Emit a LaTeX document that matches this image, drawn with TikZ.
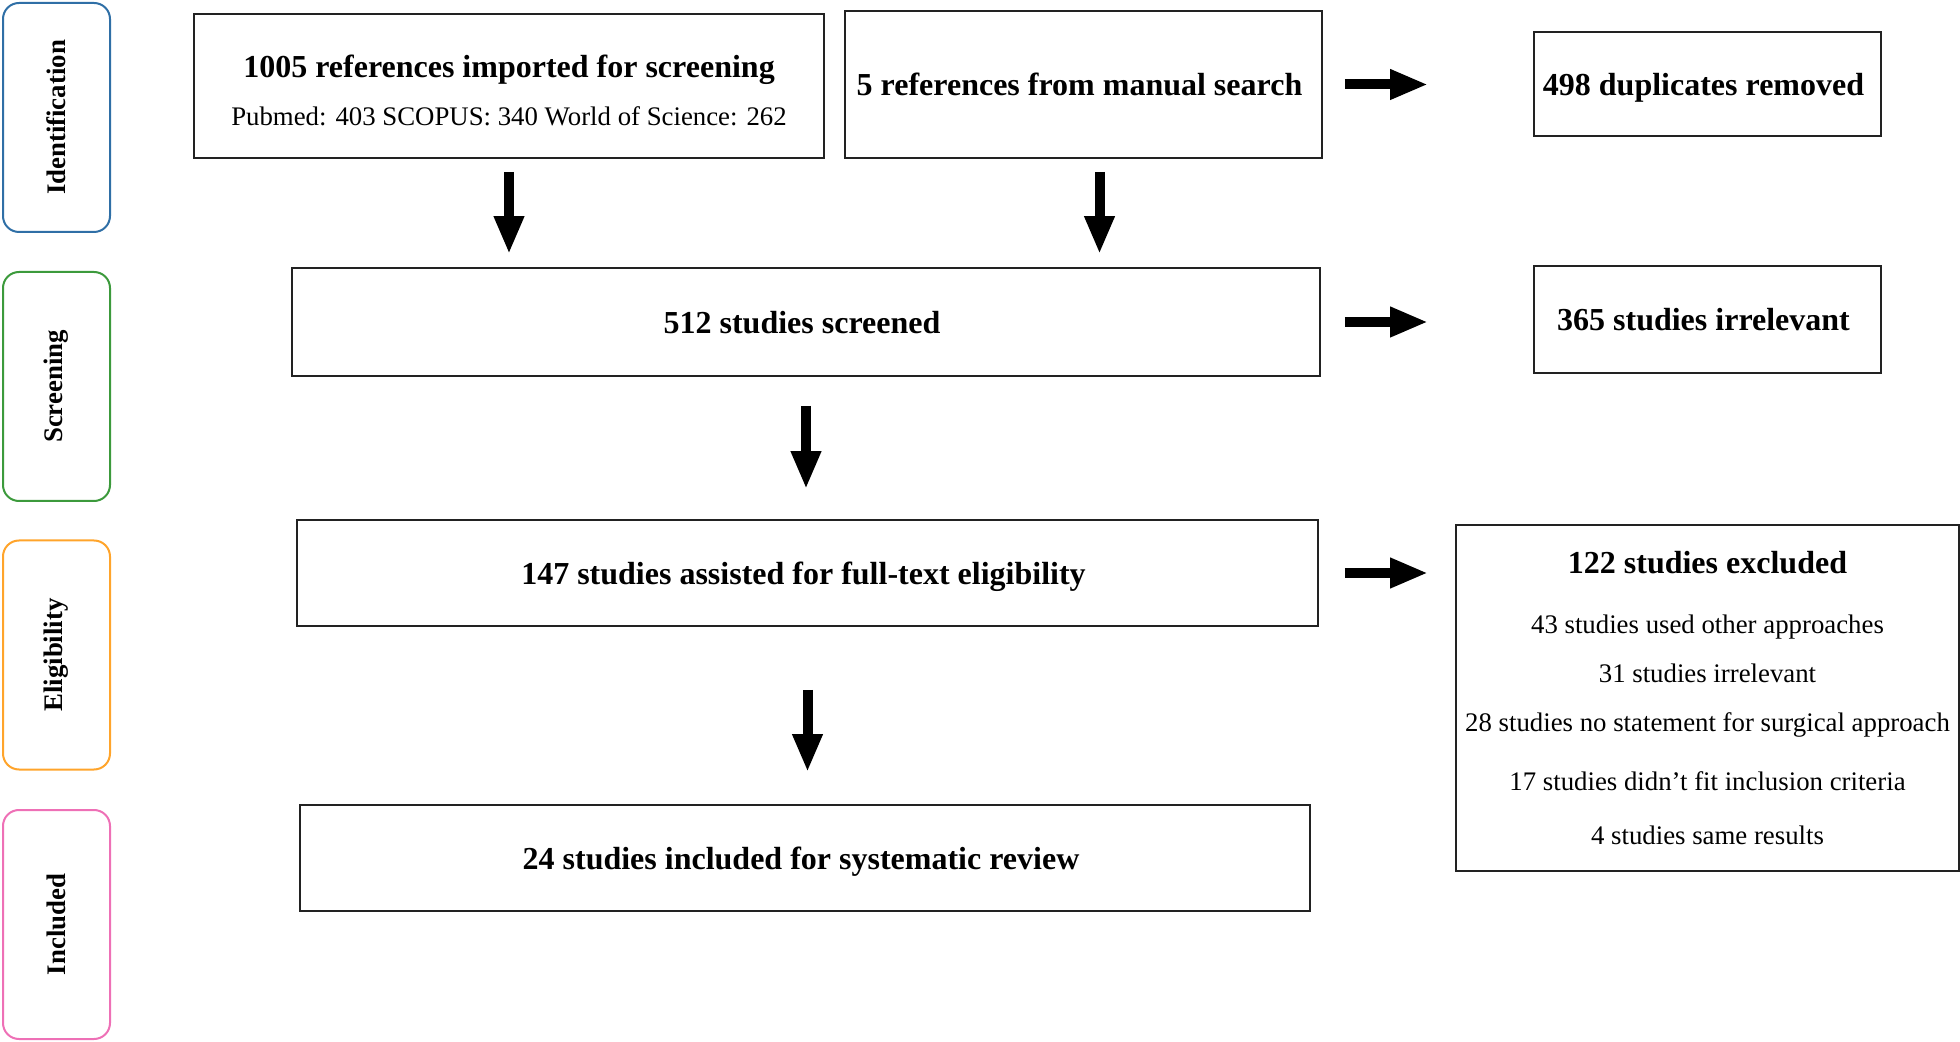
\documentclass[tikz,border=0pt]{standalone}
\usepackage{fontspec}
\setmainfont{Liberation Serif}
\usetikzlibrary{arrows.meta,positioning}
\definecolor{PrismaBlue}{HTML}{2F6FA6}
\definecolor{PrismaGreen}{HTML}{3C9A3C}
\definecolor{PrismaOrange}{HTML}{FFA42B}
\definecolor{PrismaPink}{HTML}{EE70B6}
\definecolor{PrismaInk}{HTML}{222222}

\begin{document}
\begin{tikzpicture}[
    x=0.5pt,y=-0.5pt,
    phase/.style={
      rotate=90,
      rounded corners=8pt,
      minimum width=114.5pt,
      minimum height=53.5pt,
      line width=1pt,
      inner sep=0pt,
      font=\fontsize{13.4}{16}\selectfont\bfseries
    },
    stepbox/.style={
      draw=PrismaInk,
      line width=0.9pt,
      inner sep=0pt,
      align=center,
      font=\fontsize{16}{19}\selectfont\bfseries
    },
    oneline/.style={
      text height=13pt,
      text depth=1.5pt
    },
    blockarrow/.style={
      line width=5pt,
      -{Triangle[length=19pt,width=14pt]}
    }]

    \useasboundingbox (0,0) rectangle (1960,1042);

    % Phase labels
    \node[phase,draw=PrismaBlue] (pid) at (56.5,117.5) {Identification};
    \node[phase,draw=PrismaGreen] (pscr) at (56.5,386.5) {Screening};
    \node[phase,draw=PrismaOrange] (pelig) at (56.5,655) {Eligibility};
    \node[phase,draw=PrismaPink] (pinc) at (56.5,924.5) {Included};

    % Identification
    \node[stepbox,minimum width=315pt,minimum height=72pt] (imported) at (509,86) {
      \rule{0pt}{16pt}1005 references imported for screening\\[5pt]
      \fontsize{13.4}{16}\selectfont\mdseries Pubmed: 403 SCOPUS: 340 World of Science: 262
    };
    \node[stepbox,oneline,minimum width=238.5pt,minimum height=73.5pt] (manual) at (1083.5,84.5) {
      5 references from manual search
    };
    \node[stepbox,oneline,minimum width=173.5pt,minimum height=52pt] (dupl) at (1707.5,84) {
      498 duplicates removed
    };

    % Screening
    \node[stepbox,oneline,minimum width=514pt,minimum height=54pt] (screened) at (806,322) {
      512 studies screened
    };
    \node[stepbox,oneline,minimum width=173.5pt,minimum height=53.5pt] (irrel) at (1707.5,319.5) {
      365 studies irrelevant
    };

    % Eligibility
    \node[stepbox,oneline,minimum width=510.5pt,minimum height=53pt] (fulltext) at (807.5,573) {
      147 studies assisted for full-text eligibility
    };
    \node[stepbox,minimum width=251.5pt,minimum height=173pt] (excluded) at (1707.5,698) {
      122 studies excluded\\[11pt]
      \fontsize{13.4}{16}\selectfont\mdseries
      43 studies used other approaches\\[5.5pt]
      \fontsize{13.4}{16}\selectfont\mdseries
      31 studies irrelevant\\[5.5pt]
      \fontsize{13.4}{16}\selectfont\mdseries
      28 studies no statement for surgical approach\\[10.8pt]
      \fontsize{13.4}{16}\selectfont\mdseries
      17 studies didn’t fit inclusion criteria\\[8pt]
      \fontsize{13.4}{16}\selectfont\mdseries
      4 studies same results
    };

    % Included
    \node[stepbox,oneline,minimum width=505pt,minimum height=53pt] (review) at (805,858) {
      24 studies included for systematic review
    };

    % Arrows
    \draw[blockarrow,shorten <=6.5pt,shorten >=6.5pt]
      (imported.south) -- (imported.south |- screened.north);
    \draw[blockarrow,shorten <=6.5pt,shorten >=6.5pt]
      ([xshift=8pt]manual.south) -- ([xshift=8pt]manual.south |- screened.north);
    \draw[blockarrow,shorten <=11pt,shorten >=52.5pt]
      (manual.east) -- (manual.east -| dupl.west);
    \draw[blockarrow,shorten <=12pt,shorten >=52.5pt]
      (screened.east) -- (screened.east -| irrel.west);
    \draw[blockarrow,shorten <=14.5pt,shorten >=15pt]
      (screened.south) -- (screened.south |- fulltext.north);
    \draw[blockarrow,shorten <=13pt,shorten >=13.5pt]
      (fulltext.east) -- (fulltext.east -| excluded.west);
    \draw[blockarrow,shorten <=31.5pt,shorten >=16pt]
      (fulltext.south) -- (fulltext.south |- review.north);
  \end{tikzpicture}
\end{document}
